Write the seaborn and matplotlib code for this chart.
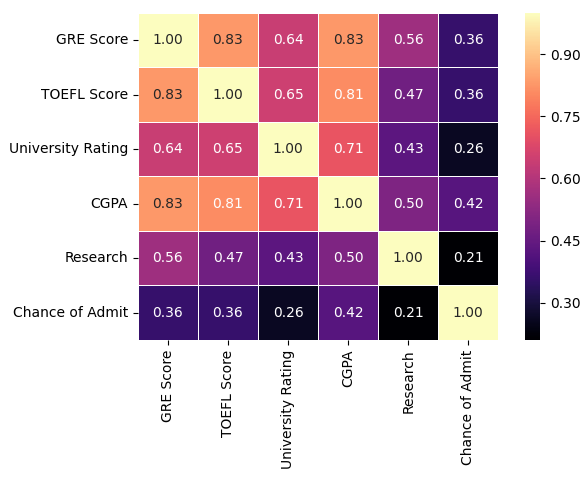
import matplotlib
matplotlib.use("Agg")
import matplotlib.pyplot as plt
import numpy as np
import pandas as pd
import seaborn as sns

labels = ["GRE Score", "TOEFL Score", "University Rating", "CGPA", "Research", "Chance of Admit"]

gre = [1.00, 0.83, 0.64, 0.83, 0.56, 0.36]
toefl = [0.83, 1.00, 0.65, 0.81, 0.47, 0.36]
rating = [0.64, 0.65, 1.00, 0.71, 0.43, 0.26]
cgpa = [0.83, 0.81, 0.71, 1.00, 0.50, 0.42]
research = [0.56, 0.47, 0.43, 0.50, 1.00, 0.21]
admit = [0.36, 0.36, 0.26, 0.42, 0.21, 1.00]

cbar_ticks = [0.30, 0.45, 0.60, 0.75, 0.90]

corr = pd.DataFrame([gre, toefl, rating, cgpa, research, admit], index=labels, columns=labels)

fig = plt.figure(figsize=(5.82, 4.82), dpi=100)
ax = fig.add_axes([0.237, 0.295, 0.619, 0.678])
cax = fig.add_axes([0.902, 0.295, 0.026, 0.678])

sns.heatmap(corr, ax=ax, cbar_ax=cax, cmap="magma", annot=True, fmt=".2f",
            linewidths=0.5, linecolor="white", annot_kws={"fontsize": 10},
            cbar_kws={"ticks": cbar_ticks})

ax.tick_params(axis="both", labelsize=10)
plt.setp(ax.get_xticklabels(), rotation=90)
plt.setp(ax.get_yticklabels(), rotation=0)
cax.set_yticklabels([f"{t:.2f}" for t in cbar_ticks])
cax.tick_params(labelsize=10)

fig.savefig("out.png", dpi=100)
